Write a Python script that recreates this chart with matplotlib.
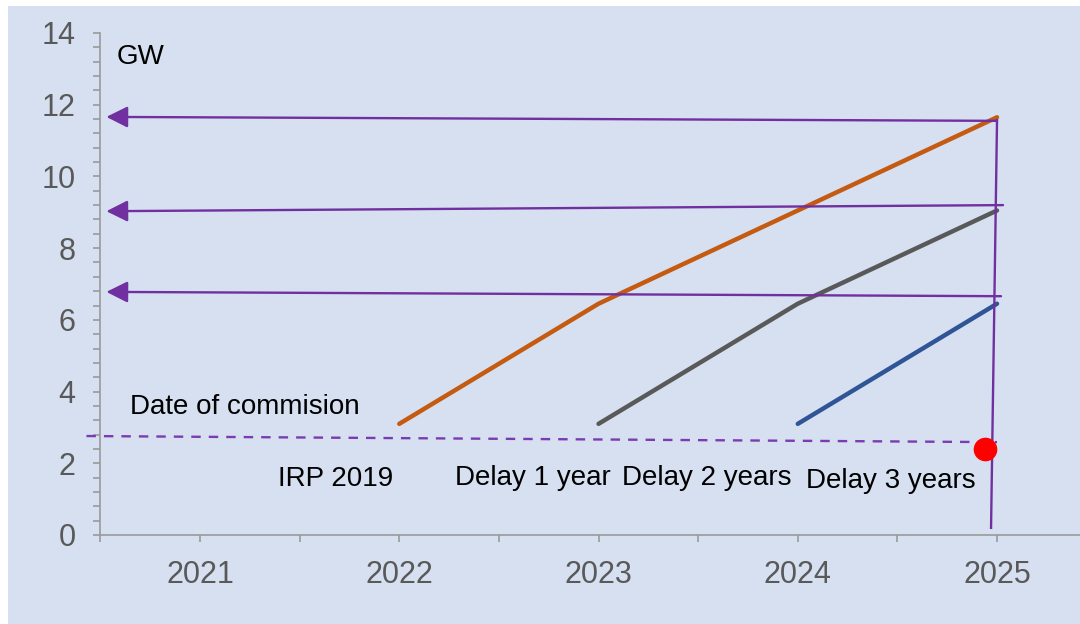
import matplotlib
matplotlib.use("Agg")
import matplotlib.pyplot as plt
from matplotlib.patches import Rectangle
from matplotlib.ticker import MultipleLocator, FixedLocator

plt.rcParams['font.family'] = ['Liberation Sans', 'DejaVu Sans']

# capacity paths (GW)
irp_years = [2022, 2023, 2025]
irp_gw = [3.1, 6.45, 11.65]
d1_years = [2023, 2024, 2025]
d1_gw = [3.1, 6.45, 9.05]
d2_years = [2024, 2025]
d2_gw = [3.1, 6.45]

# arrows pointing back to the y axis
arrow_x_right = [2025.0, 2025.03, 2025.02]
arrow_y_right = [11.55, 9.2, 6.66]
arrow_x_left = [2020.53, 2020.53, 2020.53]
arrow_y_left = [11.66, 9.03, 6.78]

# vertical line at 2025
vline_x = [2025.0, 2024.97]
vline_y = [11.57, 0.2]

# date of commission
commission_x = [2020.43, 2025.0]
commission_y = [2.76, 2.59]
dot_x = [2024.94]
dot_y = [2.4]

year_ticks = [2021, 2022, 2023, 2024, 2025]
year_labels = ['2021', '2022', '2023', '2024', '2025']

orange = '#c55a11'
grey = '#595959'
blue = '#2f5597'
purple = '#7030a0'

fig = plt.figure(figsize=(10.8, 6.24), dpi=100, facecolor='white')
fig.patches.append(Rectangle((8 / 1080, 0), 1, 1 - 6 / 624, transform=fig.transFigure,
                             facecolor='#d6e0f1', edgecolor='none', zorder=-10))
ax = fig.add_axes([100.4 / 1080, 89 / 624, 979.6 / 1080, 502 / 624])
ax.patch.set_alpha(0)

ax.set_xlim(2020.5, 2020.5 + 979.6 / 199.25)
ax.set_ylim(0, 14)

for s in ['top', 'right']:
    ax.spines[s].set_visible(False)
for s in ['left', 'bottom']:
    ax.spines[s].set_color('#9a9a9a')
    ax.spines[s].set_linewidth(1.2)

ax.xaxis.set_major_locator(FixedLocator(year_ticks))
ax.set_xticklabels(year_labels)
ax.xaxis.set_minor_locator(FixedLocator([2020.5, 2021.5, 2022.5, 2023.5, 2024.5]))
ax.yaxis.set_major_locator(MultipleLocator(2))
ax.yaxis.set_minor_locator(MultipleLocator(0.4))
ax.tick_params(axis='both', which='both', color='#9a9a9a', width=1.2, length=5, direction='out')
ax.tick_params(axis='both', which='major', labelsize=22, labelcolor='#595959', pad=13)

ax.plot(irp_years, irp_gw, color=orange, lw=3.2, solid_capstyle='round', zorder=3)
ax.plot(d1_years, d1_gw, color=grey, lw=3.2, solid_capstyle='round', zorder=3)
ax.plot(d2_years, d2_gw, color=blue, lw=3.2, solid_capstyle='round', zorder=3)

for xr, yr, xl, yl in zip(arrow_x_right, arrow_y_right, arrow_x_left, arrow_y_left):
    ax.annotate('', xy=(xl, yl), xytext=(xr, yr),
                arrowprops=dict(arrowstyle='-|>,head_length=1.3,head_width=0.65',
                                color=purple, lw=1.7, shrinkA=0, shrinkB=0),
                zorder=4)

ax.plot(vline_x, vline_y, color=purple, lw=1.7, zorder=4)
ax.plot(commission_x, commission_y, color='#7a3cb0', lw=1.7, dashes=(4, 3.4),
        clip_on=False, zorder=4)
ax.plot(dot_x, dot_y, 'o', color='#ff0000', markersize=16, zorder=5)

ax.text(2020.583, 13.13, 'GW', fontsize=20, color='black', va='baseline')
ax.text(2020.649, 3.37, 'Date of commision', fontsize=20, color='black', va='baseline')
ax.text(2021.39, 1.37, 'IRP 2019', fontsize=20, color='black', va='baseline')
ax.text(2022.28, 1.39, 'Delay 1 year', fontsize=20, color='black', va='baseline')
ax.text(2023.12, 1.39, 'Delay 2 years', fontsize=20, color='black', va='baseline')
ax.text(2024.04, 1.31, 'Delay 3 years', fontsize=20, color='black', va='baseline')

fig.savefig('out.png', dpi=100, facecolor=fig.get_facecolor())
